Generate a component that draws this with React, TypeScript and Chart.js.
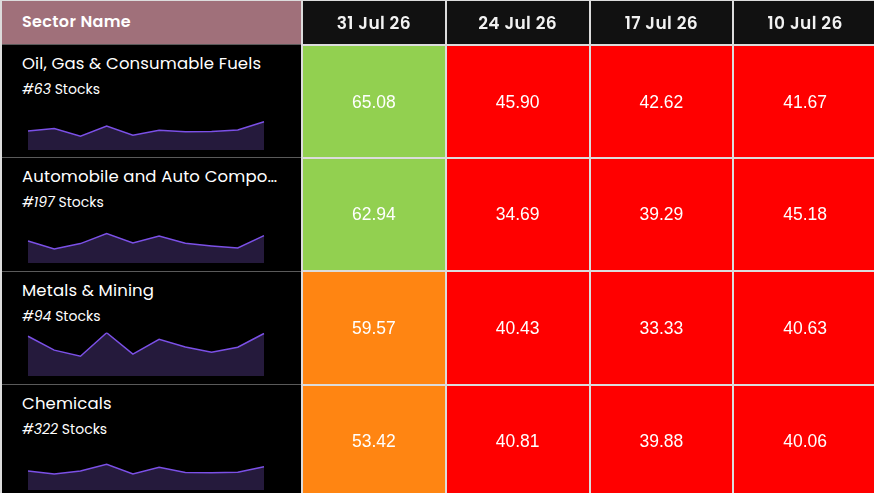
import React, { useEffect, useRef } from "react";
import { Chart, registerables } from "chart.js";

Chart.register(...registerables);

// ---------- data ----------
const dates = ["31 Jul 26", "24 Jul 26", "17 Jul 26", "10 Jul 26"];
const sectors = [
  "Oil, Gas & Consumable Fuels",
  "Automobile and Auto Components",
  "Metals & Mining",
  "Chemicals",
];
const stockCounts = [63, 197, 94, 322];

const oilScores = [65.08, 45.9, 42.62, 41.67];
const autoScores = [62.94, 34.69, 39.29, 45.18];
const metalsScores = [59.57, 40.43, 33.33, 40.63];
const chemicalsScores = [53.42, 40.81, 39.88, 40.06];
const scoreRows = [oilScores, autoScores, metalsScores, chemicalsScores];

// sparkline history (oldest -> newest)
const trendWeeks = [
  "29 May 26", "05 Jun 26", "12 Jun 26", "19 Jun 26", "26 Jun 26",
  "03 Jul 26", "10 Jul 26", "17 Jul 26", "24 Jul 26", "31 Jul 26",
];
const oilTrend = [43.7, 49.2, 31.5, 55.2, 33.8, 45.3, 41.67, 42.62, 45.9, 65.08];
const autoTrend = [50.6, 32.2, 44.6, 67.6, 46.0, 62.1, 45.18, 39.29, 34.69, 62.94];
const metalsTrend = [55.7, 36.3, 27.7, 60.6, 30.6, 51.4, 40.63, 33.33, 40.43, 59.57];
const chemicalsTrend = [43.7, 36.8, 43.7, 58.9, 36.8, 52.0, 40.06, 39.88, 40.81, 53.42];
const trendRows = [oilTrend, autoTrend, metalsTrend, chemicalsTrend];
const trendMax = [100, 100, 61, 100];

// ---------- style ----------
const UI_FONT = "Poppins, Inter, 'Noto Sans', sans-serif";
const NUM_FONT = "'Liberation Sans', Arial, sans-serif";
const HEADER_H = 44.5;
const ROW_H = 113.4;
const GRID = "#dcdcdc";

function cellColor(v: number): string {
  if (v >= 60) return "#92d050";
  if (v >= 50) return "#ff8512";
  return "#ff0000";
}

function Heatmap() {
  const ref = useRef<HTMLCanvasElement | null>(null);
  useEffect(() => {
    if (!ref.current) return;
    const headerBg = {
      id: "headerBg",
      beforeDraw(chart: any) {
        const { ctx, chartArea } = chart;
        ctx.save();
        ctx.fillStyle = "#111111";
        ctx.fillRect(chartArea.left, 0, chartArea.right - chartArea.left, chartArea.top);
        ctx.fillStyle = GRID;
        ctx.fillRect(chartArea.left - 1, 0, chartArea.right - chartArea.left + 2, 1);
        ctx.restore();
        (ctx as any).letterSpacing = "0.4px";
      },
    };
    const cellLabels = {
      id: "cellLabels",
      afterDatasetsDraw(chart: any) {
        const { ctx } = chart;
        ctx.save();
        (ctx as any).letterSpacing = "0px";
        ctx.fillStyle = "#ffffff";
        ctx.font = `17.5px ${NUM_FONT}`;
        ctx.textAlign = "center";
        ctx.textBaseline = "middle";
        chart.data.datasets.forEach((ds: any, r: number) => {
          const meta = chart.getDatasetMeta(r);
          meta.data.forEach((bar: any, c: number) => {
            const y = (bar.y + bar.base) / 2;
            ctx.fillText(scoreRows[r][c].toFixed(2), bar.x, y + 1);
          });
        });
        ctx.restore();
      },
    };
    const chart = new Chart(ref.current, {
      type: "bar",
      data: {
        labels: dates,
        datasets: sectors.map((s, r) => ({
          label: s,
          data: dates.map(() => 1),
          backgroundColor: scoreRows[r].map(cellColor),
          borderWidth: 0,
          barPercentage: 1,
          categoryPercentage: 1,
          stack: "rows",
        })),
      },
      options: {
        animation: false,
        responsive: false,
        events: [],
        layout: { padding: { left: 2, right: 3, top: 0, bottom: 3 } },
        plugins: { legend: { display: false }, tooltip: { enabled: false } },
        scales: {
          x: {
            type: "category",
            position: "top",
            stacked: true,
            offset: true,
            z: 1,
            grid: { offset: true, color: GRID, lineWidth: 2, tickLength: 45, drawOnChartArea: true, z: 1 },
            border: { display: false },
            ticks: {
              color: "#f2f2f2",
              font: { family: UI_FONT, size: 17, weight: "600" },
              padding: -35,
              maxRotation: 0,
              autoSkip: false,
            },
            afterFit: (s: any) => {
              s.height = HEADER_H;
            },
          },
          y: {
            type: "linear",
            min: 0,
            max: 4,
            reverse: true,
            stacked: true,
            z: 1,
            ticks: { display: false, stepSize: 1 },
            grid: { color: GRID, lineWidth: 2, drawTicks: false, z: 1 },
            border: { display: false },
            afterFit: (s: any) => {
              s.width = 0;
            },
          },
        },
      } as any,
      plugins: [headerBg, cellLabels],
    });
    return () => chart.destroy();
  }, []);
  return (
    <canvas
      ref={ref}
      width={580}
      height={Math.round(HEADER_H + ROW_H * 4 + 3)}
      style={{ position: "absolute", left: 300, top: 0 }}
    />
  );
}

function Sparkline({ values, max }: { values: number[]; max: number }) {
  const ref = useRef<HTMLCanvasElement | null>(null);
  useEffect(() => {
    if (!ref.current) return;
    const chart = new Chart(ref.current, {
      type: "line",
      data: {
        labels: trendWeeks,
        datasets: [
          {
            data: values,
            borderColor: "#7b50e6",
            borderWidth: 1.5,
            backgroundColor: "#251a3c",
            fill: "origin",
            pointRadius: 0,
            tension: 0,
          },
        ],
      },
      options: {
        animation: false,
        responsive: false,
        events: [],
        layout: { padding: { left: 2, right: 2, top: 2.5, bottom: 2 } },
        plugins: { legend: { display: false }, tooltip: { enabled: false } },
        scales: {
          x: { display: false },
          y: { display: false, min: 0, max },
        },
      } as any,
    });
    return () => chart.destroy();
  }, [values, max]);
  return (
    <canvas
      ref={ref}
      width={240}
      height={48}
      style={{ position: "absolute", left: 24.5, top: 59 }}
    />
  );
}

export default function App() {
  return (
    <div
      style={{
        position: "fixed",
        left: 0,
        top: 0,
        width: 874,
        height: 493,
        overflow: "hidden",
        background: "#000",
        fontFamily: UI_FONT,
        color: "#fff",
      }}
    >
      {/* outer left/top border */}
      <div style={{ position: "absolute", left: 0, top: 0, width: 1.5, height: 493, background: GRID }} />
      <div style={{ position: "absolute", left: 0, top: 0, width: 302, height: 1, background: GRID }} />
      {/* Sector Name header */}
      <div
        style={{
          position: "absolute",
          left: 1.5,
          top: 1,
          width: 299.5,
          height: 42.7,
          background: "#a0707a",
        }}
      >
        <div
          style={{
            position: "absolute",
            left: 20.5,
            top: 11,
            fontSize: 16,
            fontWeight: 600,
            lineHeight: "20px",
            letterSpacing: "0.35px",
            color: "#fff",
            whiteSpace: "nowrap",
          }}
        >
          Sector Name
        </div>
      </div>
      {sectors.map((name, r) => {
        const top = HEADER_H + r * ROW_H;
        return (
          <div
            key={name}
            style={{ position: "absolute", left: 1.5, top, width: 299.5, height: ROW_H }}
          >
            <div style={{ position: "absolute", left: 0, top: -0.5, width: 299.5, height: 1, background: "#5a5a5a" }} />
            <div
              style={{
                position: "absolute",
                left: 20.5,
                top: 9.5,
                width: 256,
                fontSize: 16.5,
                letterSpacing: "0.15px",
                lineHeight: "20px",
                whiteSpace: "nowrap",
                overflow: "hidden",
                textOverflow: "ellipsis",
              }}
            >
              {name}
            </div>
            <div
              style={{
                position: "absolute",
                left: 20.5,
                top: 35.4,
                fontSize: 14,
                lineHeight: "18px",
                whiteSpace: "nowrap",
              }}
            >
              <span style={{ fontStyle: "italic" }}>#{stockCounts[r]}</span> Stocks
            </div>
            <Sparkline values={trendRows[r]} max={trendMax[r]} />
          </div>
        );
      })}
      <Heatmap />
    </div>
  );
}
